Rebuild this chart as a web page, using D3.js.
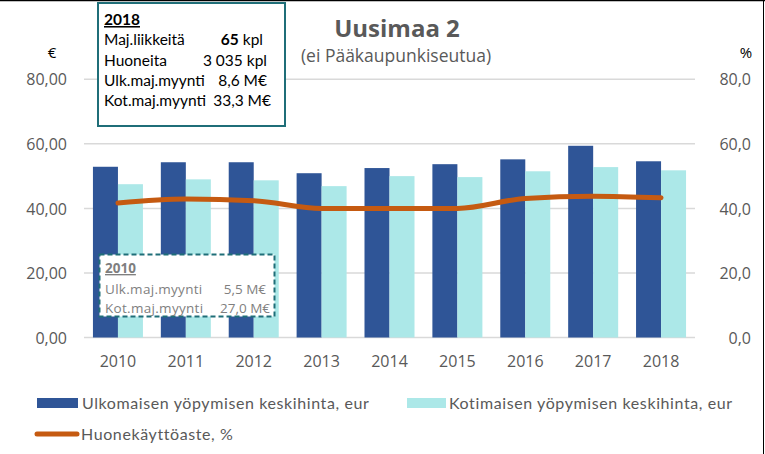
<!DOCTYPE html>
<html><head><meta charset="utf-8">
<script src="https://cdn.jsdelivr.net/npm/d3@7"></script>
<style>body{margin:0;background:#fff}svg{display:block;font-family:Lato,"Open Sans",sans-serif}</style>
</head><body><svg id="c" width="765" height="454"></svg>
<script>
const years = ["2010","2011","2012","2013","2014","2015","2016","2017","2018"];
const foreignPrice = [52.9,54.3,54.3,50.9,52.5,53.7,55.2,59.4,54.6];
const domesticPrice = [47.5,49.0,48.7,46.9,50.0,49.7,51.5,52.8,51.8];
const occupancy = [41.7,42.9,42.4,40.0,40.0,40.0,43.1,43.8,43.3];
const leftTicks = [0,20,40,60,80];
const rightTicks = [0,20,40,60,80];
const seriesNames = ["Ulkomaisen yöpymisen keskihinta, eur","Kotimaisen yöpymisen keskihinta, eur","Huonekäyttöaste, %"];
const box2018 = [["Maj.liikkeitä","65"," kpl"],["Huoneita","3 035 kpl",""],["Ulk.maj.myynti","8,6 M€",""],["Kot.maj.myynti","33,3 M€",""]];
const box2010 = [["Ulk.maj.myynti","5,5 M€"],["Kot.maj.myynti","27,0 M€"]];

const cDark="#2F5597", cLight="#ACE8E8", cLine="#C55A11", cText="#595959", cTeal="#1F6E78";
const OS = "'Open Sans', sans-serif";
const svg = d3.select("#c");
const L=84,R=695,T=79.3,B=337.5;
const x = d3.scaleBand().domain(years).range([L,R]).padding(0);
const yL = d3.scaleLinear().domain([0,80]).range([B,T]);
const yR = d3.scaleLinear().domain([0,80]).range([B,T]);
const bw = 25;

// frame lines
svg.append("line").attr("x1",0).attr("x2",765).attr("y1",0.5).attr("y2",0.5).attr("stroke","#000").attr("stroke-width",1.5);
svg.append("line").attr("x1",763.5).attr("x2",763.5).attr("y1",0).attr("y2",454).attr("stroke","#000").attr("stroke-width",1);

// gridlines
svg.append("g").selectAll("line").data(leftTicks).join("line")
  .attr("x1",L).attr("x2",R).attr("y1",d=>yL(d)).attr("y2",d=>yL(d))
  .attr("stroke","#D9D9D9").attr("stroke-width",1.5);

// left axis
const axL = d3.axisLeft(yL).tickValues(leftTicks).tickSize(0).tickPadding(0)
  .tickFormat(d=>d3.format(".2f")(d).replace(".",","));
const gL = svg.append("g").attr("transform","translate(67,0)").call(axL);
gL.select(".domain").remove();
gL.selectAll("text").attr("fill",cText).style("font-size","16px").style("font-family",OS).attr("dy","0.35em");

const axR = d3.axisRight(yR).tickValues(rightTicks).tickSize(0).tickPadding(0)
  .tickFormat(d=>d3.format(".1f")(d).replace(".",","));
const gR = svg.append("g").attr("transform","translate(751,0)").call(axR);
gR.select(".domain").remove();
gR.selectAll("text").attr("fill",cText).style("font-size","16px").style("font-family",OS).attr("text-anchor","end").attr("dy","0.35em");

const axX = d3.axisBottom(x).tickSize(0).tickPadding(0);
const gX = svg.append("g").attr("transform",`translate(0,${B})`).call(axX);
gX.select(".domain").remove();
gX.selectAll("text").attr("fill",cText).style("font-size","16px").style("font-family",OS).attr("y",29).attr("dy",0);

// unit labels
svg.append("text").attr("x",52).attr("y",58).attr("text-anchor","middle").style("font-size","15px").style("font-family",OS).attr("fill","#000").text("€");
svg.append("text").attr("x",746).attr("y",58).attr("text-anchor","middle").style("font-size","15px").style("font-family",OS).attr("fill","#000").text("%");

// bars
const cx = d=>x(d)+x.bandwidth()/2;
svg.append("g").selectAll("rect").data(years).join("rect")
  .attr("x",(d)=>cx(d)-bw).attr("width",bw)
  .attr("y",(d,i)=>yL(foreignPrice[i])).attr("height",(d,i)=>B-yL(foreignPrice[i])).attr("fill",cDark);
svg.append("g").selectAll("rect").data(years).join("rect")
  .attr("x",(d)=>cx(d)).attr("width",bw)
  .attr("y",(d,i)=>yL(domesticPrice[i])).attr("height",(d,i)=>B-yL(domesticPrice[i])).attr("fill",cLight);

// line
const line = d3.line().x((d,i)=>cx(years[i])).y(d=>yR(d)).curve(d3.curveMonotoneX);
svg.append("path").datum(occupancy).attr("d",line).attr("fill","none").attr("stroke",cLine).attr("stroke-width",5).attr("stroke-linecap","round");

// title
svg.append("text").attr("x",397).attr("y",37).attr("text-anchor","middle").attr("fill",cText)
  .style("font-size","24px").style("font-family",OS).style("font-weight","bold").text("Uusimaa 2");
svg.append("text").attr("x",396).attr("y",62).attr("text-anchor","middle").attr("fill",cText)
  .style("font-size","17.5px").style("font-family",OS).text("(ei Pääkaupunkiseutua)");

// box 2018
svg.append("rect").attr("x",98).attr("y",3).attr("width",187).attr("height",123).attr("fill","#fff").attr("stroke",cTeal).attr("stroke-width",2);
const gb = svg.append("g").style("font-size","15.5px").attr("fill","#000");
gb.append("text").attr("x",104).attr("y",25).style("font-weight","bold").style("text-decoration","underline").text("2018");
const bys=[45,66,86,106], bxe=[263,267,267,271];
box2018.forEach((r,i)=>{
  gb.append("text").attr("x",104).attr("y",bys[i]).text(r[0]);
  const t = gb.append("text").attr("x",bxe[i]).attr("y",bys[i]).attr("text-anchor","end");
  if(r[2]){ t.append("tspan").style("font-weight","bold").text(r[1]); t.append("tspan").text(r[2]); }
  else t.text(r[1]);
});

// box 2010
svg.append("rect").attr("x",99.5).attr("y",254.5).attr("width",175).attr("height",62).attr("fill","#fff")
  .attr("stroke",cTeal).attr("stroke-width",2).attr("stroke-dasharray","5,3");
const gs = svg.append("g").style("font-size","13.5px").style("font-family",OS).attr("fill","#7F7F7F");
gs.append("text").attr("x",105).attr("y",273).style("font-weight","bold").style("text-decoration","underline").text("2010");
[294,313].forEach((yy,i)=>{
  gs.append("text").attr("x",105).attr("y",yy).style("letter-spacing","0.3px").text(box2010[i][0]);
  gs.append("text").attr("x",[266,270][i]).attr("y",yy).attr("text-anchor","end").text(box2010[i][1]);
});

// legend
const lg = svg.append("g").style("font-size","16px").style("letter-spacing","0.6px").attr("fill",cText);
lg.append("rect").attr("x",37).attr("y",398).attr("width",41).attr("height",10).attr("fill",cDark);
lg.append("text").attr("x",82).attr("y",409).text(seriesNames[0]);
lg.append("rect").attr("x",407).attr("y",398).attr("width",39).attr("height",10).attr("fill",cLight);
lg.append("text").attr("x",449).attr("y",409).text(seriesNames[1]);
lg.append("line").attr("x1",37).attr("x2",77).attr("y1",434).attr("y2",434).attr("stroke",cLine).attr("stroke-width",5).attr("stroke-linecap","round");
lg.append("text").attr("x",81).attr("y",440).text(seriesNames[2]);
</script></body></html>
